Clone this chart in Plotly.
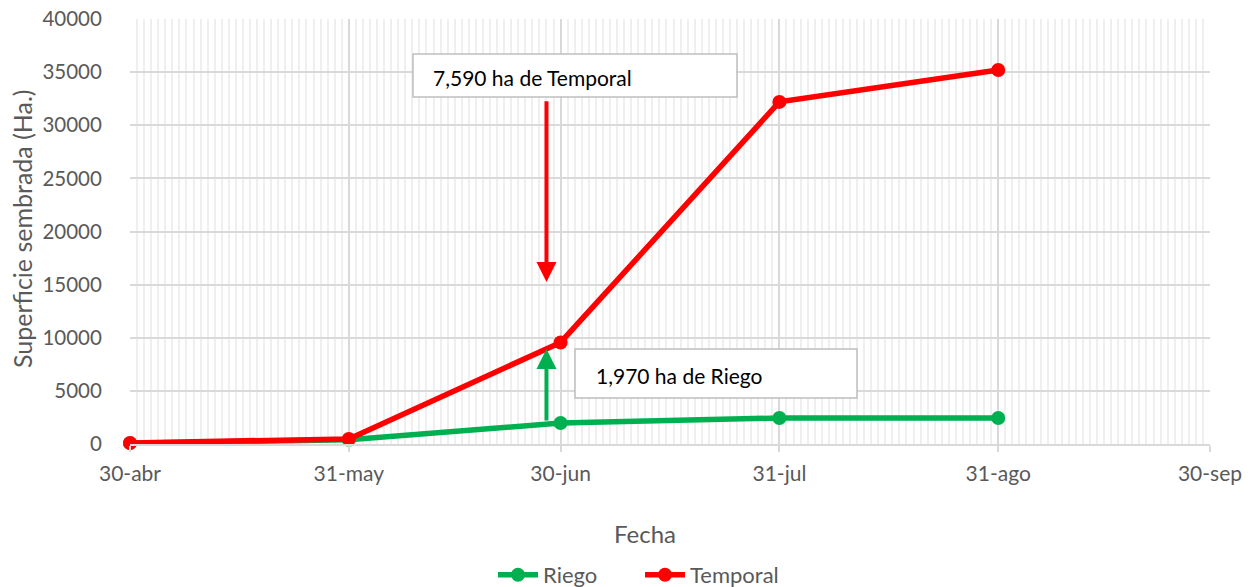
import plotly.graph_objects as go

fechas = ["2021-04-30", "2021-05-31", "2021-06-30", "2021-07-31", "2021-08-31"]
riego = [80, 400, 1970, 2450, 2450]
temporal = [100, 480, 9560, 32200, 35200]

tick_vals = ["2021-04-30", "2021-05-31", "2021-06-30", "2021-07-31", "2021-08-31", "2021-09-30"]
tick_text = ["30-abr", "31-may", "30-jun", "31-jul", "31-ago", "30-sep"]

FONT = "Lato"
GRAY = "#595959"


def px(x):
    return (x - 130) / 1080


def py(y):
    return (444 - y) / 425


fig = go.Figure()
fig.add_trace(go.Scatter(x=fechas, y=riego, name="Riego", mode="lines+markers",
                         line=dict(color="#00B050", width=5.5), cliponaxis=False,
                         marker=dict(color="#00B050", size=14)))
fig.add_trace(go.Scatter(x=fechas, y=temporal, name="Temporal", mode="lines+markers",
                         line=dict(color="#FF0000", width=5.5), cliponaxis=False,
                         marker=dict(color="#FF0000", size=14)))

# arrows
fig.add_annotation(x="2021-06-28", y=15250, ax="2021-06-28", ay=32400, xref="x", yref="y",
                   axref="x", ayref="y", showarrow=True, arrowhead=2, arrowsize=1,
                   arrowwidth=4, arrowcolor="#FF0000", text="")
fig.add_annotation(x="2021-06-28", y=8940, ax="2021-06-28", ay=2070, xref="x", yref="y",
                   axref="x", ayref="y", showarrow=True, arrowhead=2, arrowsize=1,
                   arrowwidth=4, arrowcolor="#00B050", text="")

# label boxes
fig.add_shape(type="rect", xref="paper", yref="paper", x0=px(413), x1=px(737),
              y0=py(97), y1=py(54), line=dict(color="#BFBFBF", width=1.5),
              fillcolor="white", layer="above")
fig.add_shape(type="rect", xref="paper", yref="paper", x0=px(575), x1=px(857),
              y0=py(398), y1=py(349), line=dict(color="#BFBFBF", width=1.5),
              fillcolor="white", layer="above")
fig.add_annotation(x=px(431), y=py(77), xref="paper", yref="paper", xanchor="left",
                   yanchor="middle", text="7,590 ha de Temporal", showarrow=False,
                   font=dict(family=FONT, size=21, color="black"))
fig.add_annotation(x=px(594), y=py(375), xref="paper", yref="paper", xanchor="left",
                   yanchor="middle", text="1,970 ha de Riego", showarrow=False,
                   font=dict(family=FONT, size=21, color="black"))

# axis titles
fig.add_annotation(x=px(645), y=py(533), xref="paper", yref="paper",
                   xanchor="center", yanchor="middle",
                   text="Fecha", showarrow=False,
                   font=dict(family=FONT, size=24, color=GRAY))
fig.add_annotation(x=px(22), y=py(229), xref="paper", yref="paper",
                   xanchor="center", yanchor="middle",
                   text="Superficie sembrada (Ha.)", showarrow=False, textangle=-90,
                   font=dict(family=FONT, size=25, color=GRAY))

fig.update_xaxes(type="date", range=["2021-04-30", "2021-09-30"], automargin=False,
                 tickmode="array", tickvals=tick_vals, ticktext=tick_text,
                 showgrid=True, gridcolor="#D9D9D9", gridwidth=1.5,
                 ticks="outside", ticklen=6, tickcolor="#D9D9D9", tickwidth=1.5,
                 ticklabelstandoff=4,
                 showline=True, linecolor="#D9D9D9", linewidth=1.5,
                 tickfont=dict(family=FONT, size=21, color=GRAY),
                 minor=dict(dtick=86400000, tick0="2021-04-30", showgrid=True,
                            gridcolor="#EFEFEF", gridwidth=1.5, ticks=""),
                 zeroline=False)
fig.update_yaxes(range=[0, 40000], dtick=5000, tickformat="d", automargin=False,
                 showgrid=True, gridcolor="#D9D9D9", ticklabeloverflow="allow",
                 gridwidth=1.5, zeroline=False, showline=False,
                 tickfont=dict(family=FONT, size=20.5, color=GRAY), ticklen=23,
                 ticks="outside", tickcolor="rgba(0,0,0,0)")

fig.update_layout(width=1251, height=587, margin=dict(l=122, r=49, t=11, b=151),
                  plot_bgcolor="white", paper_bgcolor="white",
                  showlegend=True,
                  legend=dict(orientation="h", xref="container", yref="container",
                              x=(493 - 8) / 1251, xanchor="left",
                              y=1 - 567 / 587, yanchor="middle",
                              font=dict(family=FONT, size=22, color=GRAY),
                              entrywidth=92, entrywidthmode="pixels",
                              itemwidth=40, bgcolor="rgba(0,0,0,0)"),
                  font=dict(family=FONT))

fig.write_html("out.html")
